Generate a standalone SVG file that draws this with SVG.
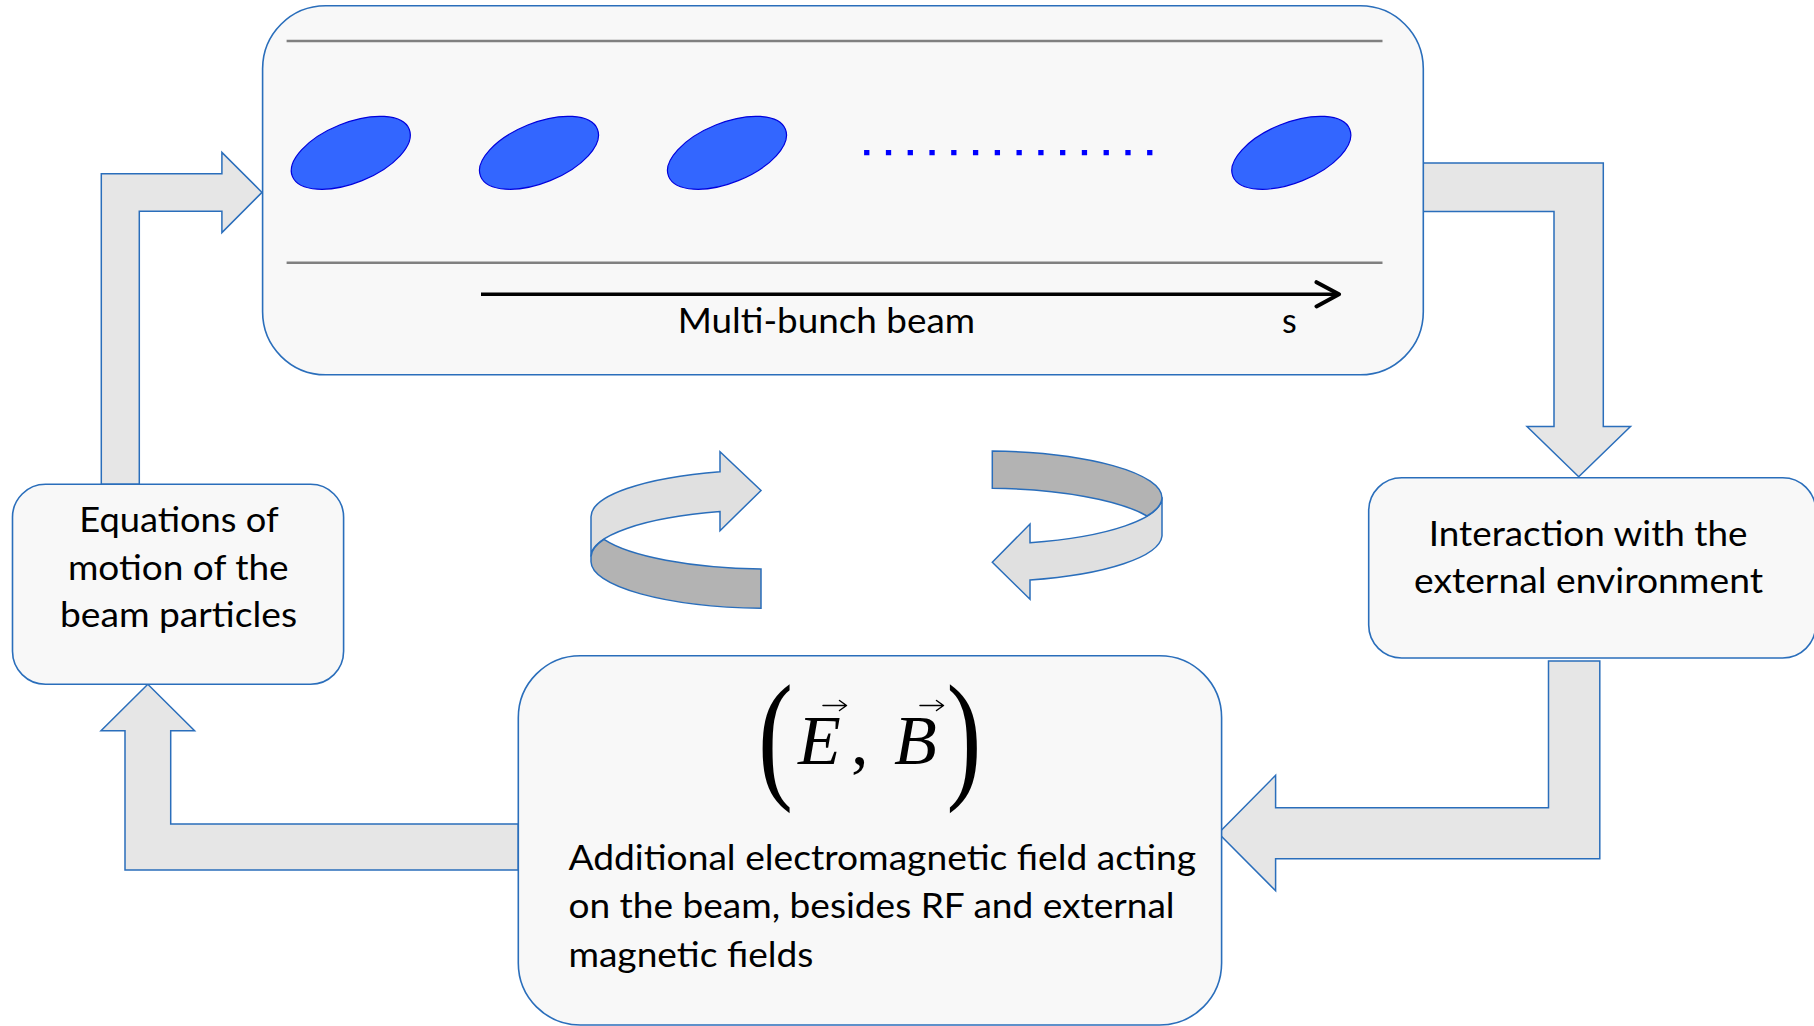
<svg xmlns="http://www.w3.org/2000/svg" width="1814" height="1026" viewBox="0 0 1814 1026">
<defs>
<style>
.box{fill:#F8F8F8;stroke:#2A6EBB;stroke-width:1.6}
.elbow{fill:#E6E6E6;stroke:#2A6EBB;stroke-width:1.5;stroke-linejoin:miter}
.light{fill:#E0E0E0;stroke:#2A6EBB;stroke-width:1.5}
.dark{fill:#B3B3B3;stroke:#2A6EBB;stroke-width:1.5}
.wall{stroke:#808080;stroke-width:2.5;fill:none}
.bunch{fill:#3366FF;stroke:#0000DD;stroke-width:1.2}
.lbl{font-family:Lato,"Open Sans","Liberation Sans",sans-serif;font-size:34px;fill:#000}
.math{font-family:"Liberation Serif","Times New Roman",serif;fill:#000}
.vec{fill:none;stroke:#000;stroke-width:1.5;stroke-linecap:round;stroke-linejoin:round}
</style>
<marker id="openArrow" markerUnits="userSpaceOnUse" markerWidth="30" markerHeight="30" refX="20" refY="11" orient="auto" viewBox="-2 -2 26 26">
<path d="M0.5,0.5 L20,11 L0.5,21.5" fill="none" stroke="#000" stroke-width="3.5" stroke-linejoin="round" stroke-linecap="round"/>
</marker>
</defs>
<rect width="1814" height="1026" fill="#FFFFFF"/>

<g id="connectors">
<polygon id="c-eq-beam" class="elbow" points="101.3,484.3 101.3,173.7 221.9,173.7 221.9,152.4 262,192.4 221.9,232.6 221.9,211.3 139.3,211.3 139.3,484.3"/>
<polygon id="c-beam-int" class="elbow" points="1423,163 1603.3,163 1603.3,426.5 1630.5,426.5 1578.7,476.8 1527,426.5 1554,426.5 1554,211.6 1423,211.6"/>
<polygon id="c-int-field" class="elbow" points="1548.5,661 1599.8,661 1599.8,858.7 1275.6,858.7 1275.6,890.7 1218.4,833.3 1275.6,775.3 1275.6,807.7 1548.5,807.7"/>
<polygon id="c-field-eq" class="elbow" points="518.3,824 170.7,824 170.7,730.7 194.6,730.7 147.8,684.3 101,730.7 125,730.7 125,870 518.3,870"/>
</g>

<g id="beam">
<rect class="box" x="262.6" y="5.8" width="1160.7" height="369" rx="63" ry="63"/>
<line class="wall" x1="286.6" y1="41" x2="1382.5" y2="41"/>
<line class="wall" x1="286.6" y1="262.7" x2="1382.5" y2="262.7"/>
<ellipse class="bunch" cx="0" cy="0" rx="63" ry="30" transform="translate(350.8,152.8) rotate(-22)"/>
<ellipse class="bunch" cx="0" cy="0" rx="63" ry="30" transform="translate(539,152.8) rotate(-22)"/>
<ellipse class="bunch" cx="0" cy="0" rx="63" ry="30" transform="translate(727,152.8) rotate(-22)"/>
<ellipse class="bunch" cx="0" cy="0" rx="63" ry="30" transform="translate(1291.3,152.8) rotate(-22)"/>
<line x1="864.1" y1="152.7" x2="1152.5" y2="152.7" stroke="#0000FF" stroke-width="5.3" stroke-dasharray="5.3 16.47"/>
<line x1="481" y1="294.3" x2="1339" y2="294.3" stroke="#000" stroke-width="3.5" marker-end="url(#openArrow)"/>
<text class="lbl" x="677.7" y="333.3" textLength="297.3" lengthAdjust="spacingAndGlyphs">Multi-bunch beam</text>
<text class="lbl" x="1282" y="332.8">s</text>
</g>

<g id="equations">
<rect class="box" x="12.5" y="484.3" width="331.1" height="200" rx="33" ry="33"/>
<text class="lbl" x="79.3" y="531.7" textLength="199.3" lengthAdjust="spacingAndGlyphs">Equations of</text>
<text class="lbl" x="67.9" y="580" textLength="220.7" lengthAdjust="spacingAndGlyphs">motion of the</text>
<text class="lbl" x="60" y="627.3" textLength="237" lengthAdjust="spacingAndGlyphs">beam particles</text>
</g>

<g id="interaction">
<rect class="box" x="1368.7" y="477.7" width="447" height="180.3" rx="33" ry="33"/>
<text class="lbl" x="1428.8" y="545.5" textLength="318.7" lengthAdjust="spacingAndGlyphs">Interaction with the</text>
<text class="lbl" x="1414" y="592.9" textLength="349" lengthAdjust="spacingAndGlyphs">external environment</text>
</g>

<g id="fields">
<rect class="box" x="518.3" y="655.7" width="703.3" height="369.3" rx="62" ry="62"/>
<text class="math" font-size="70" transform="translate(757.9,783.1) scale(1.5,2.04)">(</text>
<text class="math" font-size="70"><tspan x="798" y="763.8" font-style="italic">E</tspan><tspan x="851" y="763.8">,</tspan><tspan x="894" y="763.8" font-style="italic">B</tspan></text>
<text class="math" font-size="70" transform="translate(946.4,783.1) scale(1.5,2.04)">)</text>
<path class="vec" d="M823,705.5 L846,705.5 M839.5,700.5 L846.5,705.5 L839.5,710.5"/>
<path class="vec" d="M920,705.5 L943,705.5 M936.5,700.5 L943.5,705.5 L936.5,710.5"/>
<text class="lbl" x="568.4" y="870" textLength="627.6" lengthAdjust="spacingAndGlyphs">Additional electromagnetic field acting</text>
<text class="lbl" x="568.4" y="918.3" textLength="606.2" lengthAdjust="spacingAndGlyphs">on the beam, besides RF and external</text>
<text class="lbl" x="568.4" y="966.7" textLength="245" lengthAdjust="spacingAndGlyphs">magnetic fields</text>
</g>

<g id="cycle-left">
<path class="light" d="M591,516.7 A179,47 0 0 1 720,471.7 L720,451.7 L761,490.5 L720,530.7 L720,511.6 A179,47 0 0 0 591,556.7 Z"/>
<path class="dark" d="M604,539.3 A179,47 0 0 0 761,568.9 L761,608.3 A179,47 0 0 1 591,561.7 L591,556.7 A179,47 0 0 1 604,539.3 Z"/>
</g>

<g id="cycle-right">
<path class="light" d="M1162,536 A179,47 0 0 1 1030,580 L1030,599.3 L992.3,562.3 L1030,524 L1030,542.7 A179,47 0 0 0 1162,497.3 Z"/>
<path class="dark" d="M992.3,451 A179,47 0 0 1 1162,498 A179,47 0 0 1 1147,516 A179,47 0 0 0 992.3,488.3 Z"/>
</g>
</svg>
